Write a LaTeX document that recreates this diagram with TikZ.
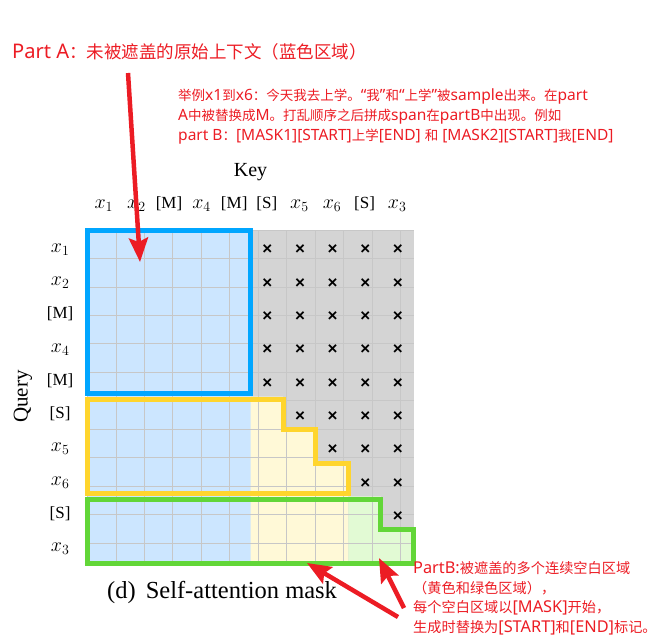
\RequirePackage{fix-cm}
\documentclass[tikz,border=0pt]{standalone}
\usepackage{fontspec}
\setmainfont{Liberation Serif}
\newfontfamily\cjk{Noto Sans CJK SC}
\newfontfamily\lat[Scale=1.15]{Noto Sans}
\newfontfamily\crossfont{Liberation Sans}
\usetikzlibrary{arrows.meta,positioning}

\definecolor{notered}{RGB}{236,28,36}
\definecolor{visblue}{RGB}{204,230,255}
\definecolor{maskgrey}{RGB}{212,212,212}
\definecolor{spanyellow}{RGB}{255,249,215}
\definecolor{spangreen}{RGB}{226,250,212}
\definecolor{frameblue}{RGB}{0,166,255}
\definecolor{frameyellow}{RGB}{255,213,45}
\definecolor{framegreen}{RGB}{98,214,56}

\newcommand{\tokx}[1]{{\fontsize{20}{22}\selectfont$x_{#1}$}}

\begin{document}
\begin{tikzpicture}[
        x=1pt, y=-1pt,
        gridline/.style={draw=black!22, line width=0.8pt},
        maskx/.style={inner sep=0pt, font=\crossfont\bfseries\fontsize{17}{17}\selectfont},
        axislabel/.style={inner sep=0pt, font=\fontsize{17}{20}\selectfont},
        frame/.style={line width=5pt, line join=miter},
        note/.style={inner sep=0pt, text=notered, align=left},
        redarrow/.style={draw=notered, line width=4.5pt,
            -{Stealth[length=24pt, width=19pt, inset=4pt]}},
    ]
    \useasboundingbox (0,0) rectangle (656,641);

    % the 10 x 10 mask
    \begin{scope}[xshift=87.5pt, yshift=-230pt, x=32.6pt, y=-33.3pt]
        \fill[maskgrey] (0,0) rectangle (10,10);
        \fill[visblue] (0,0) rectangle (5,10);
        \fill[spanyellow] (5,5) -| (6,6) -| (7,7) -| (8,10) -- (5,10) -- cycle;
        \fill[spangreen] (8,8) -| (9,9) -| (10,10) -- (8,10) -- cycle;
        \draw[gridline] (0,0) grid (10,10);

        \foreach \r in {0,...,8}
            \foreach \c in {5,...,9} {
                \ifnum\c>\r
                    \node[maskx] (x-\r-\c) at (\c+.52,\r+.6) {×};
                \fi
            }

        \draw[frame, frameblue] (0,0) rectangle (5,4.92);
        \draw[frame, frameyellow] (0,5.08) -- (6,5.08) -- (6,6) -- (7,6)
            -- (7,7) -- (8,7) -- (8,7.92) -- (0,7.92) -- cycle;
        \draw[frame, framegreen] (0,8.08) -- (9,8.08) -- (9,9) -- (10,9)
            -- (10,10) -- (0,10) -- cycle;

        % key and query tokens
        \foreach \lab [count=\i from 0] in
            {\tokx1,\tokx2,[M],\tokx4,[M],[S],\tokx5,\tokx6,[S],\tokx3} {
            \node[axislabel, anchor=base] (k-\i) at (\i+.5,-.66) {\lab};
            \node[axislabel, anchor=base] (q-\i) at (-.84,\i+.665) {\lab};
        }
        \node[inner sep=0pt, anchor=base, font=\fontsize{20}{24}\selectfont]
            (key) at (5,-1.62) {Key};
        \node[inner sep=0pt, rotate=90, font=\fontsize{21}{24}\selectfont]
            (query) at (-1.98,5) {Query};
    \end{scope}

    \node[inner sep=0pt, anchor=base west, font=\fontsize{24.5}{28}\selectfont]
        (caption) at (107,598) {(d)\hspace{10pt}Self-attention mask};

    % notes
    \node[note, anchor=base west, font=\cjk\fontsize{17.5}{20}\selectfont]
        (partA) at (12,58) {{\lat Part A}：未被遮盖的原始上下文（蓝色区域）};
    \node[note, anchor=north west, font=\cjk\fontsize{13.5}{20}\selectfont]
        (example) at (178,88) {举例{\lat x1}到{\lat x6}：今天我去上学。{\lat“}我{\lat”}和{\lat“}上学{\lat”}被{\lat sample}出来。在{\lat part}\\
        {\lat A}中被替换成{\lat M}。打乱顺序之后拼成{\lat span}在{\lat partB}中出现。例如\\
        {\lat part B}：{\lat[MASK1][START]}上学{\lat[END] }和{\lat{} [MASK2][START]}我{\lat[END]}};
    \node[note, anchor=north west, font=\cjk\fontsize{14.2}{19.8}\selectfont]
        (partB) at (413,561) {{\lat PartB:}被遮盖的多个连续空白区域\\
        （黄色和绿色区域），\\
        每个空白区域以{\lat[MASK]}开始，\\
        生成时替换为{\lat[START]}和{\lat[END]}标记。};

    \coordinate (tailA) at (128,73);
    \coordinate (tipA) at (140,262);
    \coordinate (tailB1) at (398,617);
    \coordinate (tipB1) at (307,563);
    \coordinate (tailB2) at (404,608);
    \coordinate (tipB2) at (379,558);
    \draw[redarrow] (tailA) -- (tipA);
    \draw[redarrow] (tailB1) -- (tipB1);
    \draw[redarrow] (tailB2) -- (tipB2);
\end{tikzpicture}
\end{document}
